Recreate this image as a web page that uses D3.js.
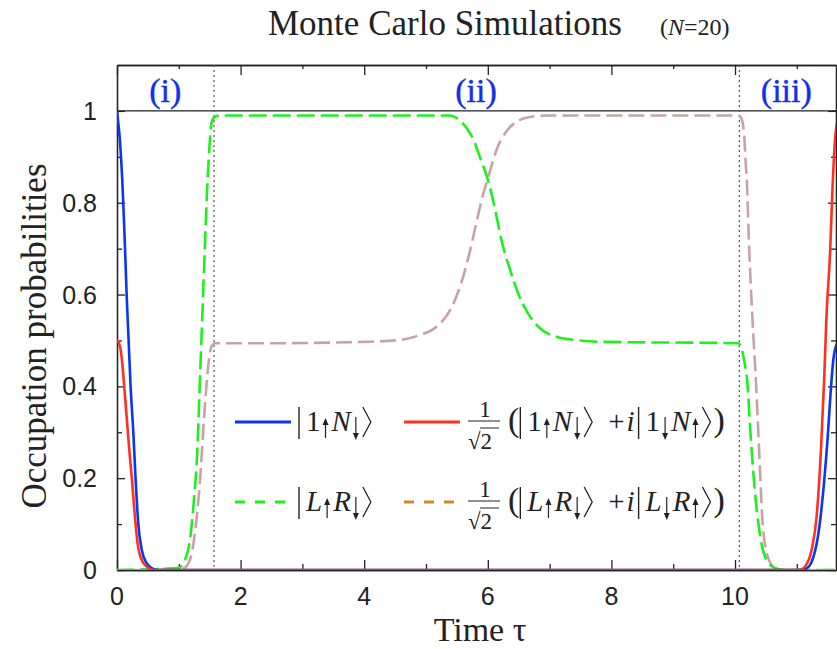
<!DOCTYPE html>
<html lang="en">
<head>
  <meta charset="UTF-8">
  <title>Monte Carlo Simulations (N=20)</title>
  <script src="https://d3js.org/d3.v7.min.js"></script>
  <style>
    body { margin: 0; background: #fff; }
    .frame path.domain, .frame line { stroke: #222; stroke-width: 1.3px; }
    .num { font: 25px "Liberation Sans", Arial, sans-serif; fill: #222; }
    .serif { font-family: "Liberation Serif", "DejaVu Serif", serif; fill: #222; }
  </style>
</head>
<body>
  <svg width="837" height="649"></svg>
  <script>
    // tick labels
    const xTickLabels = [0, 2, 4, 6, 8, 10];
    const xMinorTicks = [1, 3, 5, 7, 9, 11];
    const yTickLabels = [0, 0.2, 0.4, 0.6, 0.8, 1];
    const yMinorTicks = [0.1, 0.3, 0.5, 0.7, 0.9];
    // boundaries of the regions (i) (ii) (iii)
    const regionBounds = [1.57, 10.07];
    const regionNames = ["(i)", "(ii)", "(iii)"];
    const regionCenters = [0.78, 5.81, 10.83];

    // series as [tau, probability]
    const up1DownN = [[0,1],[0.02,0.975],[0.045,0.94],[0.065,0.9],[0.085,0.85],[0.11,0.77],[0.13,0.7],
      [0.156,0.6],[0.188,0.5],[0.22,0.4],[0.264,0.3],[0.3,0.2],[0.345,0.1],[0.4,0.044],[0.48,0.015],
      [0.56,0.004],[0.65,0],[11.0,0],[11.16,0.004],[11.27,0.029],[11.35,0.08],[11.44,0.19],[11.5,0.29],
      [11.55,0.392],[11.59,0.457],[11.64,0.49],[11.7,0.5]];
    const sym1N = [[0,0.501],[0.03,0.495],[0.06,0.479],[0.085,0.45],[0.113,0.407],[0.156,0.334],
      [0.199,0.261],[0.247,0.189],[0.29,0.116],[0.333,0.058],[0.4,0.022],[0.51,0.004],[0.6,0],[11.05,0],
      [11.13,0.007],[11.24,0.044],[11.32,0.116],[11.39,0.26],[11.44,0.407],[11.48,0.552],[11.54,0.697],
      [11.58,0.84],[11.62,0.94],[11.66,0.98],[11.7,0.99]];
    const upLDownR = [[0,0],[0.99,0.004],[1.1,0.022],[1.18,0.065],[1.245,0.153],[1.3,0.261],[1.34,0.407],
      [1.38,0.552],[1.42,0.697],[1.466,0.85],[1.5,0.93],[1.53,0.975],[1.57,0.986],[1.65,0.99],[5.39,0.99],
      [5.5,0.984],[5.66,0.962],[5.77,0.937],[5.87,0.9],[6.01,0.846],[6.12,0.784],[6.22,0.719],[6.36,0.654],
      [6.49,0.603],[6.65,0.559],[6.84,0.527],[7.11,0.508],[7.49,0.5],[7.82,0.497],[10.05,0.494],
      [10.1,0.485],[10.15,0.455],[10.2,0.407],[10.25,0.298],[10.31,0.189],[10.4,0.08],[10.51,0.022],
      [10.65,0.004],[10.8,0],[11.7,0]];
    const symLR = [[0,0],[1.07,0.004],[1.18,0.022],[1.26,0.08],[1.34,0.189],[1.41,0.334],[1.48,0.45],
      [1.53,0.487],[1.585,0.494],[2.5,0.494],[4.0,0.497],[4.58,0.501],[4.9,0.512],[5.17,0.53],[5.39,0.566],
      [5.55,0.617],[5.69,0.683],[5.79,0.741],[5.9,0.806],[6.01,0.857],[6.14,0.915],[6.3,0.955],[6.47,0.977],
      [6.74,0.988],[7.0,0.99],[10.06,0.99],[10.1,0.985],[10.15,0.944],[10.17,0.893],[10.19,0.85],
      [10.23,0.697],[10.28,0.552],[10.34,0.407],[10.39,0.261],[10.44,0.116],[10.5,0.044],[10.62,0.007],
      [10.75,0],[11.7,0]];

    const svg = d3.select("svg");
    const serif = '"Liberation Serif", "DejaVu Serif", serif';
    const pLeft = 117, pRight = 836, pTop = 65, pBottom = 570;

    const x = d3.scaleLinear().domain([0, 11.634]).range([pLeft, pRight]);
    const y = d3.scaleLinear().domain([0, 1.1]).range([pBottom, pTop]);

    svg.append("clipPath").attr("id", "plot")
      .append("rect").attr("x", pLeft).attr("y", pTop).attr("width", pRight - pLeft).attr("height", pBottom - pTop);

    // frame with inward ticks
    const frame = svg.append("g").attr("class", "frame");
    frame.append("g").attr("transform", `translate(0,${pBottom})`)
      .call(d3.axisBottom(x).tickValues(xTickLabels).tickSize(-10).tickSizeOuter(0).tickFormat(""));
    frame.append("g").attr("transform", `translate(0,${pBottom})`)
      .call(d3.axisBottom(x).tickValues(xMinorTicks).tickSize(-6).tickSizeOuter(0).tickFormat(""));
    frame.append("g").attr("transform", `translate(0,${pTop})`)
      .call(d3.axisTop(x).tickValues(xTickLabels).tickSize(-10).tickSizeOuter(0).tickFormat(""));
    frame.append("g").attr("transform", `translate(0,${pTop})`)
      .call(d3.axisTop(x).tickValues(xMinorTicks).tickSize(-4).tickSizeOuter(0).tickFormat(""));
    frame.append("g").attr("transform", `translate(${pLeft},0)`)
      .call(d3.axisLeft(y).tickValues(yTickLabels).tickSize(-8).tickSizeOuter(0).tickFormat(""));
    frame.append("g").attr("transform", `translate(${pLeft},0)`)
      .call(d3.axisLeft(y).tickValues(yMinorTicks).tickSize(-5).tickSizeOuter(0).tickFormat(""));
    frame.append("g").attr("transform", `translate(${pRight},0)`)
      .call(d3.axisRight(y).tickValues(yTickLabels).tickSize(-8).tickSizeOuter(0).tickFormat(""));
    frame.append("g").attr("transform", `translate(${pRight},0)`)
      .call(d3.axisRight(y).tickValues(yMinorTicks).tickSize(-5).tickSizeOuter(0).tickFormat(""));

    // tick labels
    svg.append("g").selectAll("text").data(xTickLabels).join("text")
      .attr("class", "num").attr("x", d => x(d)).attr("y", 605)
      .attr("text-anchor", "middle").text(d => d);
    svg.append("g").selectAll("text").data(yTickLabels).join("text")
      .attr("class", "num").attr("x", 97).attr("y", d => y(d) + 9)
      .attr("text-anchor", "end").text(d => d);

    // line at probability 1
    svg.append("line").attr("x1", pLeft).attr("x2", pRight).attr("y1", y(1)).attr("y2", y(1))
      .attr("stroke", "#222").attr("stroke-width", 1.3);

    // region separators
    svg.append("g").selectAll("line").data(regionBounds).join("line")
      .attr("x1", d => x(d)).attr("x2", d => x(d)).attr("y1", pTop).attr("y2", pBottom)
      .attr("stroke", "#555").attr("stroke-width", 1.2).attr("stroke-dasharray", "2,3");

    svg.append("g").selectAll("text").data(regionNames).join("text")
      .attr("x", (d, i) => x(regionCenters[i])).attr("y", 102)
      .attr("text-anchor", "middle").attr("font-family", serif).attr("font-size", 34)
      .attr("fill", "#1030ee").attr("stroke", "#1030ee").attr("stroke-width", 0.4).text(d => d);

    // curves
    const line = d3.line().x(d => x(d[0])).y(d => y(d[1])).curve(d3.curveMonotoneX);
    const curves = [
      { data: symLR, color: "#c9a3a3", dash: "16,6" },
      { data: upLDownR, color: "#1ef01e", dash: "18,6" },
      { data: up1DownN, color: "#0a35f5", dash: null },
      { data: sym1N, color: "#ff3020", dash: null }
    ];
    svg.append("g").attr("clip-path", "url(#plot)")
      .selectAll("path").data(curves).join("path")
      .attr("d", d => line(d.data)).attr("fill", "none")
      .attr("stroke", d => d.color).attr("stroke-width", 2.6)
      .attr("stroke-dasharray", d => d.dash);

    // titles
    svg.append("text").attr("class", "serif").attr("x", 268).attr("y", 35).attr("font-size", 35)
      .text("Monte Carlo Simulations");
    const sub = svg.append("text").attr("class", "serif").attr("x", 660).attr("y", 35).attr("font-size", 24);
    sub.append("tspan").text("(");
    sub.append("tspan").attr("font-style", "italic").text("N");
    sub.append("tspan").text("=20)");

    svg.append("text").attr("class", "serif").attr("x", 480).attr("y", 641)
      .attr("text-anchor", "middle").attr("font-size", 34).text("Time τ");
    svg.append("text").attr("class", "serif").attr("transform", "translate(46,336) rotate(-90)")
      .attr("text-anchor", "middle").attr("font-size", 35).text("Occupation probabilities");

    // legend: math laid out glyph by glyph
    const lg = svg.append("g").attr("class", "legend");
    function drawMath(x0, base, items) {
      let cx = x0;
      items.forEach(it => {
        cx += it.dx || 0;
        if (it.bar) {
          lg.append("line").attr("x1", cx + 1).attr("x2", cx + 1).attr("y1", base - 24).attr("y2", base + 8)
            .attr("stroke", "#222").attr("stroke-width", 1.4);
          cx += 4;
        } else if (it.ket) {
          lg.append("path").attr("d", `M${cx},${base - 24}L${cx + 8},${base - 9}L${cx},${base + 6}`)
            .attr("fill", "none").attr("stroke", "#222").attr("stroke-width", 1.3);
          cx += 10;
        } else if (it.arrow) {
          const ax = cx + 4, up = it.arrow === "↑";
          const y1 = up ? base + 7 : base - 14, y2 = up ? base - 13 : base + 9;
          const s = up ? 1 : -1;
          lg.append("line").attr("x1", ax).attr("x2", ax).attr("y1", y1).attr("y2", y2 + s * 3)
            .attr("stroke", "#222").attr("stroke-width", 1.2);
          lg.append("path").attr("d", `M${ax - 3},${y2 + s * 7}L${ax},${y2}L${ax + 3},${y2 + s * 7}Z`)
            .attr("fill", "#222");
          cx += 9;
        } else if (it.t) {
          const t = lg.append("text").attr("class", "serif").attr("x", cx).attr("y", base)
            .attr("font-size", it.s || 29).attr("font-style", it.i ? "italic" : null).text(it.t);
          cx += t.node().getComputedTextLength();
        }
      });
      return cx;
    }
    function ket(a, s1, b, s2) {
      return [{ bar: true }, { t: a, i: a !== "1", dx: 4 }, { arrow: s1, dx: 1 },
        { t: b, i: true, dx: 1 }, { arrow: s2, dx: 1 }, { ket: true, dx: 2 }];
    }
    function fraction(x0, y0) {
      lg.append("text").attr("class", "serif").attr("x", x0 + 17).attr("y", y0 - 5)
        .attr("text-anchor", "middle").attr("font-size", 23).text("1");
      lg.append("line").attr("x1", x0).attr("x2", x0 + 32).attr("y1", y0 - 1).attr("y2", y0 - 1)
        .attr("stroke", "#222").attr("stroke-width", 1);
      lg.append("text").attr("class", "serif").attr("x", x0).attr("y", y0 + 27)
        .attr("font-size", 23).text("√2");
      lg.append("line").attr("x1", x0 + 12).attr("x2", x0 + 31).attr("y1", y0 + 6).attr("y2", y0 + 6)
        .attr("stroke", "#222").attr("stroke-width", 1);
    }
    const legendRows = [422, 502];
    const legendItems = [
      { row: 0, col: 0, color: "#0a35f5", dash: null, ket: ["1", "↑", "N", "↓"] },
      { row: 0, col: 1, color: "#ff3020", dash: null, sym: [["1", "↑", "N", "↓"], ["1", "↓", "N", "↑"]] },
      { row: 1, col: 0, color: "#1ef01e", dash: "10,10", ket: ["L", "↑", "R", "↓"] },
      { row: 1, col: 1, color: "#d8832e", dash: "10,10", sym: [["L", "↑", "R", "↓"], ["L", "↓", "R", "↑"]] }
    ];
    const colX = [235, 404];
    legendItems.forEach(it => {
      const ly = legendRows[it.row], lx = colX[it.col];
      lg.append("line").attr("x1", lx).attr("x2", lx + 56).attr("y1", ly).attr("y2", ly)
        .attr("stroke", it.color).attr("stroke-width", 3).attr("stroke-dasharray", it.dash);
      if (it.ket) {
        drawMath(lx + 63, ly + 9, ket(...it.ket));
      } else {
        fraction(lx + 64, ly);
        drawMath(lx + 104, ly + 9, [{ t: "(", s: 34 }]
          .concat(ket(...it.sym[0]))
          .concat([{ t: "+", dx: 14 }, { t: "i", i: true, dx: 2 }, { dx: 3 }])
          .concat(ket(...it.sym[1]))
          .concat([{ t: ")", s: 34, dx: 1 }]));
      }
    });
  </script>
</body>
</html>
